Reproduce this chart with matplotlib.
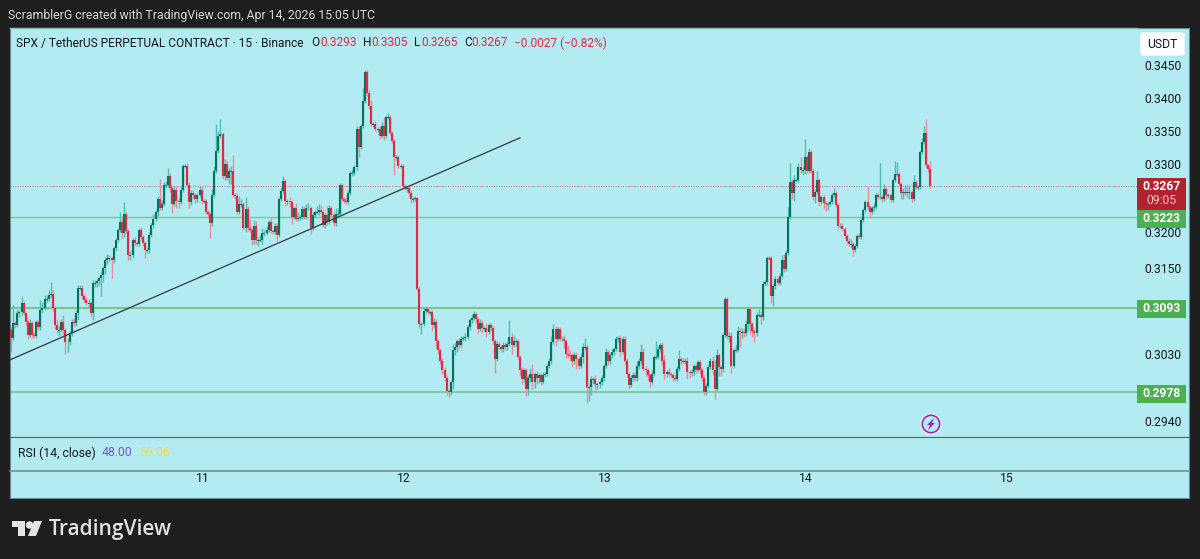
import matplotlib
matplotlib.use('Agg')
from matplotlib import pyplot as plt
from matplotlib.patches import Rectangle, FancyBboxPatch, Ellipse, Polygon
from matplotlib.transforms import blended_transform_factory
import numpy as np

# prices in 1e-4 USDT, one row = 10 candles of 15 min
first_open = 3063
closes = [
    3052,3072,3070,3086,3087,3100,3086,3074,3056,3072,
    3056,3055,3074,3067,3091,3093,3106,3106,3112,3113,
    3093,3070,3063,3063,3074,3063,3046,3047,3058,3074,
    3072,3086,3121,3121,3110,3105,3100,3100,3086,3128,
    3128,3131,3135,3140,3149,3161,3164,3164,3160,3178,
    3189,3203,3215,3199,3227,3202,3168,3168,3189,3185,
    3183,3203,3194,3185,3175,3175,3197,3211,3220,3229,
    3248,3236,3241,3269,3269,3282,3265,3241,3262,3246,
    3244,3262,3297,3297,3269,3244,3258,3255,3248,3255,
    3262,3246,3246,3229,3227,3213,3255,3289,3319,3342,
    3345,3282,3300,3280,3289,3289,3255,3253,3230,3241,
    3241,3206,3234,3206,3204,3189,3209,3189,3189,3189,
    3199,3199,3204,3215,3202,3201,3210,3197,3248,3260,
    3275,3246,3246,3244,3222,3236,3220,3221,3222,3234,
    3222,3236,3236,3206,3225,3229,3230,3232,3229,3211,
    3225,3215,3236,3225,3213,3227,3227,3269,3248,3246,
    3244,3258,3286,3287,3295,3352,3325,3357,3395,3440,
    3407,3387,3360,3360,3352,3352,3342,3357,3342,3370,
    3370,3347,3335,3310,3310,3297,3297,3267,3265,3265,
    3258,3248,3248,3250,3120,3071,3071,3089,3092,3087,
    3087,3069,3074,3048,3035,3021,3008,2998,2980,2978,
    2992,3035,3039,3048,3042,3051,3052,3053,3067,3076,
    3080,3085,3078,3064,3073,3065,3065,3060,3069,3065,
    3048,3023,3044,3039,3037,3042,3039,3044,3053,3042,
    3048,3048,3026,3008,2996,3008,2983,2998,3003,2992,
    3003,2998,3001,2992,3002,3003,3014,3021,3046,3064,
    3051,3064,3051,3051,3048,3030,3029,3028,3021,3028,
    3023,3014,3026,3039,3039,2985,2985,2996,2996,2989,
    2989,2992,2998,3014,3033,3021,3028,3033,3037,3051,
    3052,3033,3051,3021,3003,2988,2998,3002,2997,3014,
    3021,3032,3010,3008,3001,2992,3003,3026,3026,3037,
    3042,3021,3003,3005,3003,3001,2998,2996,3010,3023,
    3021,3019,3021,3005,3004,3005,3014,3008,3019,3008,
    2998,2978,2987,3012,3021,3008,2983,3028,3012,3010,
    3056,3106,3055,3055,3014,3035,3035,3062,3060,3060,
    3058,3071,3092,3071,3062,3058,3084,3084,3081,3127,
    3129,3164,3163,3110,3124,3134,3128,3138,3160,3148,
    3171,3223,3274,3257,3276,3276,3296,3291,3291,3311,
    3289,3318,3289,3252,3259,3276,3244,3252,3242,3241,
    3241,3244,3254,3257,3240,3210,3210,3205,3195,3188,
    3183,3183,3175,3181,3195,3193,3218,3232,3244,3237,
    3230,3235,3237,3254,3251,3252,3248,3263,3254,3254,
    3247,3276,3285,3285,3271,3257,3259,3259,3257,3259,
    3249,3274,3266,3266,3318,3333,3346,3298,3293,3267,
]
wick_up = [
    4,26,3,6,4,9,3,2,4,6,
    3,4,3,3,14,8,6,5,6,16,
    5,3,6,5,4,10,3,5,3,4,
    5,4,4,5,4,3,4,6,3,4,
    4,3,3,4,3,3,5,4,3,3,
    3,4,14,6,17,3,3,5,3,4,
    3,3,5,3,3,3,4,3,6,4,
    5,30,6,4,6,12,5,4,5,4,
    4,5,3,3,4,5,4,3,3,3,
    5,5,3,3,3,3,8,8,41,8,
    22,3,8,4,5,8,25,3,5,12,
    8,3,18,4,14,3,9,8,4,8,
    7,4,5,3,6,3,3,4,3,4,
    8,3,3,5,3,3,6,8,3,5,
    4,5,6,3,4,3,8,9,8,3,
    3,14,4,3,4,8,8,3,3,4,
    5,3,3,5,4,5,5,3,20,2,
    2,4,9,3,4,3,5,6,14,3,
    7,3,3,3,3,4,3,3,3,3,
    2,3,3,3,2,4,3,4,3,3,
    4,3,5,4,3,3,3,4,3,3,
    3,8,6,3,4,3,3,5,4,4,
    5,4,3,3,5,4,3,7,4,3,
    3,3,4,3,3,4,4,3,24,6,
    8,3,3,3,4,3,3,4,8,13,
    3,4,3,3,3,3,3,3,9,7,
    4,3,3,3,5,3,12,6,3,5,
    4,3,5,6,13,3,3,4,3,6,
    3,3,3,3,5,3,4,4,3,4,
    3,4,3,3,3,3,3,3,4,6,
    3,12,6,3,3,3,5,3,22,4,
    3,5,8,3,6,3,3,3,4,12,
    3,4,3,5,3,5,3,3,3,3,
    3,3,4,3,3,6,14,9,3,3,
    3,3,3,5,5,3,8,6,3,5,
    4,5,3,3,3,3,3,8,3,4,
    4,2,2,3,3,4,3,4,8,9,
    4,14,27,4,8,4,5,15,4,27,
    3,6,3,3,4,14,3,3,3,3,
    3,3,3,7,3,3,3,3,3,3,
    4,8,3,3,3,4,3,3,3,22,
    3,4,5,3,4,49,3,8,3,3,
    4,4,19,18,3,3,6,10,12,9,
    3,10,3,3,3,6,11,22,2,12,
]
wick_dn = [
    20,3,4,3,5,4,3,4,5,3,
    4,3,3,4,4,5,3,4,3,3,
    4,6,5,8,3,6,16,14,5,3,
    4,4,9,3,4,4,3,5,4,9,
    6,5,5,25,10,8,6,5,25,4,
    4,3,3,7,5,4,8,8,5,4,
    3,3,3,5,11,5,4,3,5,4,
    5,3,4,3,4,3,6,13,3,11,
    8,3,3,3,3,8,4,6,5,4,
    4,5,3,3,5,21,3,3,3,3,
    3,4,5,3,10,18,3,5,4,3,
    4,3,5,4,3,7,5,5,8,3,
    5,4,3,3,3,3,3,9,3,3,
    3,8,6,7,10,3,3,3,3,3,
    3,3,3,8,3,3,3,5,3,3,
    4,4,3,3,3,3,3,3,3,4,
    3,3,3,3,3,4,14,3,3,3,
    4,5,3,5,3,4,5,3,6,3,
    3,3,4,26,4,3,3,3,3,6,
    6,5,4,3,3,6,14,3,3,3,
    3,8,3,10,5,5,5,5,6,6,
    3,9,7,6,4,3,3,4,3,4,
    3,3,6,6,3,6,4,7,3,3,
    4,19,3,4,4,4,4,3,3,12,
    3,7,3,8,6,4,10,8,6,9,
    8,8,7,4,3,3,3,3,4,3,
    10,3,3,3,10,6,4,8,9,4,
    14,4,3,8,4,21,18,10,6,8,
    6,5,4,4,3,6,4,3,4,3,
    4,6,3,5,4,4,3,4,3,4,
    4,4,3,8,6,6,3,3,3,3,
    4,6,7,4,3,3,5,3,3,3,
    4,3,3,9,6,4,3,4,3,5,
    5,4,3,3,3,6,14,3,12,10,
    4,3,5,8,10,3,3,3,20,8,
    5,3,10,14,9,12,3,3,10,4,
    3,3,3,10,14,4,3,3,3,4,
    3,3,3,8,12,3,3,5,6,6,
    3,3,3,5,9,3,5,3,8,10,
    9,3,3,3,3,3,3,3,3,5,
    3,4,9,3,3,3,3,3,3,4,
    9,3,4,3,3,3,4,3,5,4,
    3,3,3,3,3,9,8,5,7,9,
    5,3,3,4,3,3,3,3,5,2,
]

price_ticks = [0.3450, 0.3400, 0.3350, 0.3300, 0.3200, 0.3150, 0.3030, 0.2940]
levels = [0.3223, 0.3093, 0.2978]
level_widths = [1.0, 1.5, 1.2]
last_price = 0.3267
day_labels = ['11', '12', '13', '14', '15']
day_ticks = [91.7, 187.7, 283.7, 379.7, 475.7]
trend_x = [-0.5, 243]
trend_y = [0.3022, 0.3339]

BG = '#1e1e1e'
PANE = '#b2ebf2'
GREEN = '#06745c'
GREEN_WICK = '#4dbfb1'
RED = '#e2293f'
RED_WICK = '#e98b9b'
LEVEL = '#66bb6a'
TXT = '#131722'
FONT = 'Roboto'

plt.rcParams['font.family'] = FONT

W, H = 1200, 559
fig = plt.figure(figsize=(W / 100, H / 100), dpi=100, facecolor=BG)


def pane(x0, y0, x1, y1):
    a = fig.add_axes([x0 / W, 1 - y1 / H, (x1 - x0) / W, (y1 - y0) / H])
    a.set_facecolor(PANE)
    for s in a.spines.values():
        s.set_color('#5f8a90')
        s.set_linewidth(0.8)
    return a


def px_text(x, y, s, **kw):
    kw.setdefault('va', 'center')
    kw.setdefault('color', TXT)
    kw.setdefault('fontsize', 8.6)
    return fig.text(x / W, 1 - y / H, s, **kw)


def px_rect(x0, y0, x1, y1, color):
    r = Rectangle((x0 / W, 1 - y1 / H), (x1 - x0) / W, (y1 - y0) / H,
                  transform=fig.transFigure, facecolor=color, edgecolor='none', zorder=5)
    fig.add_artist(r)


ax = pane(10, 28, 1189, 437)
ax_rsi = pane(10, 437, 1189, 471)
ax_time = pane(10, 471, 1189, 498)

# candles
c = np.array(closes) / 1e4
o = np.array([first_open] + closes[:-1]) / 1e4
up = np.array(wick_up) / 1e4
dn = np.array(wick_dn) / 1e4
top = np.maximum(o, c)
bot = np.minimum(o, c)
idx = np.arange(len(c))
rising = c >= o
min_body = 0.00012
body_bot = np.where(top - bot < min_body, top - min_body, bot)

ax.set_yscale('log')
ax.vlines(idx[rising], bot[rising] - dn[rising], top[rising] + up[rising], color=GREEN_WICK, lw=1.0, zorder=2)
ax.vlines(idx[~rising], bot[~rising] - dn[~rising], top[~rising] + up[~rising], color=RED_WICK, lw=1.0, zorder=2)
ax.vlines(idx[rising], body_bot[rising], top[rising], color=GREEN, lw=1.5, zorder=3)
ax.vlines(idx[~rising], body_bot[~rising], top[~rising], color=RED, lw=1.5, zorder=3)

# lines
xlim = (-0.5, 562.5)
label_x = (1137 - 10) / (1189 - 10)
price_trans = blended_transform_factory(ax.transAxes, ax.transData)
for lev, lw in zip(levels, level_widths):
    ax.plot([0, label_x], [lev, lev], transform=price_trans, color=LEVEL, lw=lw, alpha=0.75, zorder=1)
ax.plot([0, label_x], [last_price, last_price], transform=price_trans,
        color='#d9606c', lw=0.7, ls=(0, (1, 1.5)), zorder=1)
ax.plot(trend_x, trend_y, color='#3a3f46', lw=0.95, zorder=4)
ax.plot([0, label_x], [1, 1], transform=ax.transAxes, color='#7fc8a9', lw=1.0, clip_on=False, zorder=6)

ax.set_xlim(*xlim)
ax.set_ylim(0.2919, 0.3508)
ax.yaxis.tick_right()
ax.set_yticks(price_ticks, labels=[f'{p:.4f}' for p in price_ticks])
ax.minorticks_off()
ax.tick_params(axis='y', length=0, pad=-32, labelsize=8.7, labelcolor=TXT)
ax.set_xticks([])

ax_rsi.set_xticks([])
ax_rsi.set_yticks([])
ax_rsi.spines['top'].set_color('#4a6a70')

ax_time.set_xlim(*xlim)
ax_time.set_yticks([])
ax_time.set_xticks(day_ticks, labels=day_labels)
ax_time.tick_params(axis='x', length=0, pad=-19, labelsize=8.7, labelcolor=TXT)
ax_time.spines['top'].set_color('#6f9298')
ax_time.spines['top'].set_linewidth(1.2)

# header
px_text(8, 15, 'ScramblerG created with TradingView.com, Apr 14, 2026 15:05 UTC', color='#d6d6d6', fontsize=8.85)
px_text(16, 43, 'SPX / TetherUS PERPETUAL CONTRACT · 15 · Binance')
for x, s in [(311, 'O'), (363, 'H'), (414, 'L'), (464, 'C')]:
    px_text(x, 43, s)
for x, s in [(320, '0.3293'), (371, '0.3305'), (421, '0.3265'), (471, '0.3267'), (514, '−0.0027 (−0.82%)')]:
    px_text(x, 43, s, color=RED)

# price axis badges
usdt = FancyBboxPatch((1141 / W, 1 - 55 / H), 43 / W, 22 / H, boxstyle='round,pad=0,rounding_size=0.003',
                      transform=fig.transFigure, facecolor='white', edgecolor='white', zorder=5)
fig.add_artist(usdt)
px_text(1162.5, 44, 'USDT', ha='center', fontsize=8.7, zorder=6)

px_rect(1137, 178, 1186, 210, '#b2222f')
px_text(1161.5, 186.5, '0.3267', ha='center', color='white', fontsize=8.7, fontweight='bold', zorder=6)
px_text(1161.5, 201, '09:05', ha='center', color='#f0c4c8', fontsize=8.7, zorder=6)
for lev, y in zip(levels, [218.5, 309, 393.5]):
    px_rect(1137, y - 9, 1186, y + 9, '#4caf50')
    px_text(1161.5, y, f'{lev:.4f}', ha='center', color='white', fontsize=8.7, fontweight='bold', zorder=6)

# lightning marker
fig.add_artist(Ellipse((931 / W, 1 - 424 / H), 21 / W, 21 / H, transform=fig.transFigure,
                       facecolor='white', edgecolor='none', zorder=5))
fig.add_artist(Ellipse((931 / W, 1 - 424 / H), 17.5 / W, 17.5 / H, transform=fig.transFigure,
                       facecolor=PANE, edgecolor='#9c27b0', lw=1.2, zorder=5))
bolt = [(934, 418), (927, 425), (930, 425), (928, 430), (935, 423), (932, 423)]
fig.add_artist(Polygon([(x / W, 1 - y / H) for x, y in bolt], transform=fig.transFigure,
                       facecolor='#9c27b0', edgecolor='none', zorder=6))

# rsi legend
px_text(18, 453, 'RSI (14, close)', fontsize=8.8)
px_text(102, 453, '48.00', color='#7e57c2', fontsize=8.8)
px_text(139, 453, '59.06', color='#fdd835', fontsize=8.8)

# logo
logo = '#e4e4e4'
left_block = [(12, 521), (25, 521), (25, 536), (18, 536), (18, 527), (12, 527)]
right_block = [(34, 521), (42, 521), (36, 536), (28, 536)]
for pts in (left_block, right_block):
    fig.add_artist(Polygon([(x / W, 1 - y / H) for x, y in pts], transform=fig.transFigure,
                           facecolor=logo, edgecolor='none', zorder=5))
fig.add_artist(Ellipse((29.5 / W, 1 - 525 / H), 7.5 / W, 7.5 / H, transform=fig.transFigure,
                       facecolor=logo, edgecolor='none', zorder=5))
px_text(49, 529, 'TradingView', color=logo, fontsize=15, fontweight='semibold', family='Open Sans')

fig.savefig('out.png', dpi=100, facecolor=BG)
